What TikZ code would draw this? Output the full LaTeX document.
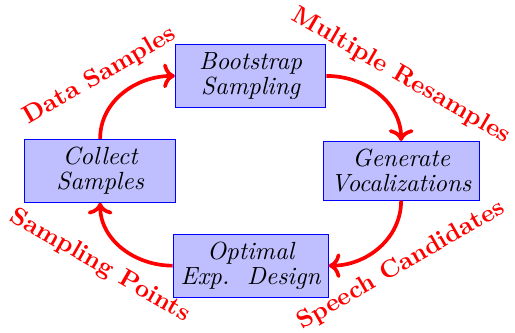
\documentclass[tikz,border=0pt]{standalone}
\usetikzlibrary{arrows.meta}

\begin{document}
\begin{tikzpicture}[
    box/.style={
        rectangle,
        draw=blue,
        fill=blue!25,
        align=center,
        minimum width=2.3cm,
        font=\fontsize{10.8}{11}\selectfont\itshape
    },
    arrow/.style={
        ->,
        red,
        ultra thick
    },
    lbl/.style={font=\fontsize{10.8}{12}\selectfont\bfseries, text=red}
]
\useasboundingbox (-3.83,-2.47) rectangle (4.04,2.61);

\def\colGap{2.3cm}
\def\rowGap{1.45cm}

%% ===== BOXES =====
\node[box] (boot) at (0,\rowGap) {Bootstrap\\Sampling};
\node[box] (gen) at (\colGap,0) {Generate\\Vocalizations};
\node[box] (optim) at (0,-\rowGap) {Optimal\\Exp.\ \ Design};
\node[box] (collect) at (-\colGap,0) {Collect\\Samples};

%% ===== CYCLE =====
\draw[arrow] (collect.north) to[out=90,in=180] (boot.west);
\draw[arrow] (boot.east) to[out=0,in=90] (gen.north);
\draw[arrow] (gen.south) to[out=270,in=0] (optim.east);
\draw[arrow] (optim.west) to[out=180,in=270] (collect.south);

%% ===== LABELS =====
\node[lbl, rotate=30] (datalbl) at (-\colGap,\rowGap) {Data Samples};
\node[lbl, rotate=-30] (resamplbl) at (\colGap,\rowGap) {Multiple Resamples};
\node[lbl, rotate=30] (speechlbl) at (\colGap,-\rowGap) {Speech Candidates};
\node[lbl, rotate=-30] (pointlbl) at (-\colGap,-\rowGap) {Sampling Points};

\end{tikzpicture}
\end{document}
